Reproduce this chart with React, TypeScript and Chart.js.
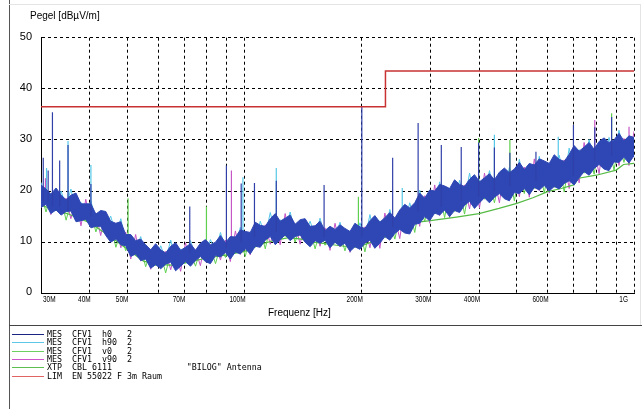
import React, { useEffect, useRef } from "react";
import { Chart, registerables } from "chart.js";

Chart.register(...registerables);

// Sweep frequencies (MHz)
const FREQ = [
  30, 30.9, 31.8, 32.8, 33.8, 34.8, 35.8, 36.9, 38.0, 39.1,
  40.3, 41.5, 42.7, 44.0, 45.3, 46.7, 48.1, 49.5, 51.0, 52.5,
  54.1, 55.7, 57.4, 59.1, 60.9, 62.7, 64.6, 66.5, 68.5, 70.5,
  72.6, 74.8, 77.0, 79.3, 81.7, 84.2, 86.7, 89.3, 91.9, 94.7,
  97.5, 100.4, 103.4, 106.5, 109.7, 113.0, 116.4, 119.9, 123.4, 127.1,
  130.9, 134.8, 138.9, 143.0, 147.3, 151.7, 156.2, 160.9, 165.7, 170.7,
  175.8, 181.0, 186.5, 192.0, 197.8, 203.7, 209.8, 216.0, 222.5, 229.2,
  236.0, 243.1, 250.3, 257.8, 265.5, 273.5, 281.6, 290.1, 298.7, 307.7,
  316.9, 326.3, 336.1, 346.1, 356.5, 367.1, 378.1, 389.4, 401.1, 413.1,
  425.4, 438.1, 451.2, 464.7, 478.6, 492.9, 507.7, 522.8, 538.5, 554.6,
  571.2, 588.2, 605.8, 623.9, 642.6, 661.8, 681.6, 702.0, 722.9, 744.6,
  766.8, 789.8, 813.4, 837.7, 862.7, 888.5, 915.1, 942.4, 970.6, 1000,
];

// MES CFV1 h0 2 : upper / lower envelope of the trace (dBµV/m)
const H0_MAX = [
  21.2, 20.4, 19.4, 20.6, 19.2, 18.3, 19.2, 19.6, 17.5, 17.5,
  17.5, 15.5, 16.2, 16.0, 14.1, 13.7, 14.0, 11.5, 11.5, 10.3,
  10.6, 9.5, 8.5, 9.7, 8.5, 7.9, 9.2, 9.9, 8.4, 9.0,
  9.7, 8.4, 9.8, 10.5, 9.5, 10.0, 11.3, 9.9, 11.1, 11.0,
  12.4, 12.1, 11.9, 13.9, 13.3, 13.1, 14.6, 15.6, 14.1, 14.7,
  15.3, 13.5, 14.4, 14.6, 13.1, 13.2, 14.1, 12.3, 13.1, 12.5,
  13.4, 12.7, 12.1, 13.7, 13.0, 12.7, 14.2, 15.2, 13.9, 14.8,
  15.8, 14.7, 16.3, 17.4, 16.7, 17.7, 19.6, 18.6, 20.2, 20.0,
  21.3, 21.0, 20.5, 22.2, 21.3, 20.9, 22.3, 23.2, 21.8, 22.6,
  23.4, 22.2, 23.7, 24.5, 23.6, 24.3, 25.6, 24.2, 25.4, 25.1,
  26.3, 25.9, 25.4, 27.1, 26.2, 25.8, 27.2, 28.9, 27.8, 28.6,
  29.5, 28.2, 29.7, 30.4, 29.5, 30.0, 31.3, 29.8, 30.8, 30.5,
];
const H0_MIN = [
  16.8, 17.4, 15.6, 16.3, 15.3, 16.0, 16.1, 14.0, 14.2, 14.5,
  12.8, 13.1, 13.1, 11.3, 10.0, 10.6, 9.5, 9.3, 7.2, 7.7,
  6.4, 6.7, 4.9, 5.6, 4.8, 5.7, 6.1, 4.4, 5.3, 6.2,
  5.3, 6.4, 7.2, 6.2, 5.8, 7.4, 7.1, 8.0, 6.7, 8.1,
  7.7, 8.7, 7.7, 9.2, 9.0, 10.4, 11.1, 9.5, 10.5, 11.4,
  10.3, 11.1, 11.4, 10.0, 9.1, 10.3, 9.8, 10.4, 8.9, 10.0,
  9.2, 9.8, 8.2, 9.1, 8.6, 9.8, 10.4, 8.8, 9.8, 11.1,
  10.4, 11.7, 12.5, 11.8, 11.6, 13.5, 13.7, 15.0, 14.2, 15.7,
  15.3, 16.3, 15.0, 16.2, 15.8, 17.2, 18.0, 16.6, 17.7, 18.7,
  17.7, 18.8, 19.5, 18.5, 18.1, 19.7, 19.5, 20.5, 19.3, 20.7,
  20.2, 21.1, 20.0, 20.9, 20.4, 21.5, 22.0, 21.2, 22.6, 23.8,
  23.1, 24.4, 25.2, 24.3, 24.0, 25.7, 25.6, 26.6, 25.5, 26.9,
];
// MES CFV1 h90 2
const H90 = [
  21.7, 18.0, 19.5, 17.4, 20.0, 16.8, 20.4, 16.2, 17.8, 15.2,
  18.1, 14.1, 15.4, 13.0, 15.1, 11.5, 14.6, 9.9, 11.1, 8.5,
  11.1, 7.3, 8.6, 6.7, 9.3, 6.5, 10.4, 6.6, 8.7, 6.9,
  10.3, 7.4, 9.0, 7.9, 10.5, 8.3, 11.9, 8.6, 10.7, 8.9,
  12.9, 9.3, 12.0, 10.3, 14.1, 11.2, 15.8, 11.7, 14.4, 12.1,
  15.9, 12.1, 13.6, 11.7, 14.1, 11.2, 14.7, 11.0, 12.7, 10.8,
  13.9, 10.4, 12.2, 10.2, 13.8, 10.6, 15.4, 11.0, 14.2, 11.8,
  16.4, 12.7, 15.5, 13.5, 17.7, 14.4, 20.2, 15.6, 19.8, 16.5,
  21.8, 16.9, 20.6, 17.3, 22.1, 18.0, 23.5, 18.8, 22.1, 19.4,
  24.0, 19.8, 22.9, 20.2, 24.6, 20.6, 26.2, 21.1, 25.0, 21.5,
  26.8, 21.7, 25.5, 22.0, 27.0, 22.3, 28.4, 23.4, 28.1, 24.5,
  30.1, 25.4, 28.9, 26.0, 30.5, 26.6, 31.9, 27.2, 30.4, 27.7,
];
// MES CFV1 v0 2
const V0 = [
  19.5, 15.9, 19.0, 16.1, 18.4, 14.3, 17.8, 14.6, 17.0, 14.2,
  15.9, 12.0, 14.9, 11.7, 13.5, 9.0, 12.0, 8.3, 10.3, 7.5,
  8.9, 5.2, 8.1, 5.4, 7.7, 4.0, 7.8, 5.0, 7.9, 5.9,
  8.1, 5.3, 8.5, 6.6, 8.9, 5.8, 9.3, 7.0, 9.9, 7.9,
  10.7, 7.2, 11.5, 9.0, 12.5, 8.7, 13.2, 10.1, 13.6, 11.1,
  13.7, 10.0, 13.1, 10.4, 12.5, 8.7, 12.1, 9.4, 11.9, 9.8,
  11.7, 8.3, 11.7, 8.9, 12.2, 8.1, 12.8, 9.4, 13.4, 10.8,
  14.2, 10.6, 15.0, 12.2, 16.1, 11.9, 17.6, 14.0, 19.0, 15.5,
  19.6, 14.8, 20.1, 16.0, 20.5, 15.5, 20.9, 17.2, 21.3, 18.4,
  21.8, 17.7, 22.4, 18.9, 23.0, 18.1, 23.6, 19.5, 24.2, 20.5,
  24.6, 19.6, 25.0, 20.7, 25.4, 19.8, 25.8, 21.8, 27.3, 23.5,
  27.9, 23.3, 28.4, 24.7, 28.9, 24.1, 29.3, 25.6, 29.6, 26.7,
];
// MES CFV1 v90 2
const V90 = [
  16.7, 19.5, 15.4, 20.3, 16.2, 18.6, 14.6, 18.3, 13.2, 18.4,
  13.2, 15.6, 11.3, 15.8, 11.4, 13.3, 8.9, 12.0, 6.7, 11.5,
  6.3, 8.6, 4.7, 9.4, 5.7, 8.2, 4.6, 8.6, 4.3, 9.9,
  5.7, 8.5, 5.4, 10.3, 7.2, 9.6, 6.5, 10.4, 6.2, 12.2,
  7.6, 11.2, 7.5, 13.6, 9.9, 13.4, 9.6, 14.3, 9.5, 15.6,
  10.7, 13.6, 9.6, 14.4, 10.5, 12.8, 9.2, 12.8, 8.4, 13.7,
  9.1, 11.8, 8.0, 13.4, 9.5, 13.0, 8.9, 13.9, 8.8, 15.7,
  10.8, 14.8, 10.7, 17.2, 13.0, 17.3, 13.1, 19.1, 13.7, 21.2,
  15.2, 20.1, 14.8, 21.9, 16.7, 21.2, 16.5, 21.9, 16.7, 23.5,
  18.1, 22.3, 17.7, 24.3, 19.5, 23.9, 18.9, 24.7, 18.8, 26.3,
  20.1, 25.0, 19.6, 26.8, 21.3, 26.1, 20.5, 27.6, 21.6, 29.5,
  23.5, 28.3, 23.4, 30.2, 25.4, 29.6, 25.0, 30.3, 25.0, 31.7,
];

// Narrow-band spikes (frequency MHz, foot level, peak level)
const SPK_BLUE_F = [30.4, 31.3, 32.1, 33.5, 35.2, 40.3, 72.3, 89.8, 98.0, 106, 120.6, 160, 200, 240, 279, 320, 360, 399, 438, 480, 560, 699, 793, 876];
const SPK_BLUE_LO = [18, 18, 17, 17, 16, 15, 8, 9, 10, 11, 12, 11, 11, 13, 16, 17, 18, 19, 20, 21, 22, 23, 26, 27];
const SPK_BLUE_HI = [26.5, 24.0, 35.4, 26.0, 29.0, 21.4, 17.0, 25.0, 21.5, 21.6, 22.0, 21.2, 36.5, 26.5, 33.3, 29.0, 28.6, 29.5, 28.5, 27.5, 27.7, 32.9, 32.5, 34.5];
const SPK_CYAN_F = [31.0, 35.2, 40.3, 99.0, 120.6, 254, 438, 639];
const SPK_CYAN_LO = [18, 16, 15, 11, 12, 14, 21, 24];
const SPK_CYAN_HI = [24.5, 29.8, 25.1, 22.7, 24.5, 20.6, 31.0, 30.6];
const SPK_GREEN_F = [50.2, 79.8, 196, 399, 480, 876];
const SPK_GREEN_LO = [10, 8, 11, 20, 21, 27];
const SPK_GREEN_HI = [18.6, 17.0, 18.9, 30.4, 30.0, 35.2];
const SPK_MAG_F = [30.8, 92.5, 793, 971];
const SPK_MAG_LO = [18, 9, 26, 28];
const SPK_MAG_HI = [22.5, 24.0, 33.9, 32.6];

// XTP CBL 6111 "BILOG" Antenna
const XTP_F = [30, 35, 40, 45, 50, 55, 60, 65, 70, 80, 90, 100, 110, 120, 130, 140, 150, 165, 180, 200, 215, 230, 250, 300, 350, 400, 450, 500, 550, 600, 650, 700, 720, 800, 900, 940, 1000];
const XTP_V = [17.2, 15.6, 13.8, 11.2, 8.6, 6.3, 5.6, 5.5, 5.9, 6.9, 7.5, 8.2, 9.6, 10.4, 10.9, 10.6, 10.0, 9.6, 9.2, 9.3, 10.2, 12.0, 13.5, 14.2, 14.9, 15.6, 16.6, 17.6, 18.7, 19.9, 20.5, 21.2, 22.5, 23.1, 24.1, 25.2, 25.4];

// LIM EN 55022 F 3m Raum
const LIM_F = [30, 230, 230, 1000];
const LIM_V = [36.5, 36.5, 43.5, 43.5];

// Axes
const X_GRID = [30, 40, 50, 60, 70, 80, 90, 100, 200, 300, 400, 500, 600, 700, 800, 900, 1000];
const X_LABEL_VALUES = [30, 40, 50, 70, 100, 200, 300, 400, 600, 1000];
const X_LABELS = ["30M", "40M", "50M", "70M", "100M", "200M", "300M", "400M", "600M", "1G"];
const Y_MIN = 0;
const Y_MAX = 50;
const Y_STEP = 10;

const LEGEND_ROWS = [
  { color: "#1c2580", text: "MES  CFV1  h0   2" },
  { color: "#5ec6e6", text: "MES  CFV1  h90  2" },
  { color: "#6bd060", text: "MES  CFV1  v0   2" },
  { color: "#cc55cc", text: "MES  CFV1  v90  2" },
  { color: "#5cbf4f", text: "XTP  CBL 6111               \"BILOG\" Antenna" },
  { color: "#e06464", text: "LIM  EN 55022 F 3m Raum" },
];

const BAND_BLUE = "#2e47b4";

const pts = (xs: number[], ys: number[]) => xs.map((x, i) => ({ x, y: ys[i] }));
const spikes = (xs: number[], lo: number[], hi: number[]) =>
  xs.flatMap((x, i) => [
    { x, y: lo[i] },
    { x, y: hi[i] },
    { x, y: null as any },
  ]);

const xLabelPlugin = {
  id: "xLabels",
  afterDraw(chart: any) {
    const ctx = chart.ctx as CanvasRenderingContext2D;
    const sx = chart.scales.x;
    const SCALE = 0.72;
    ctx.save();
    ctx.fillStyle = "#000";
    ctx.font = '9px "Liberation Sans", Arial, sans-serif';
    ctx.textBaseline = "middle";
    ctx.textAlign = "left";
    const last = X_LABEL_VALUES.length - 1;
    X_LABEL_VALUES.forEach((v, i) => {
      const px = sx.getPixelForValue(v);
      const text = X_LABELS[i];
      const w = ctx.measureText(text).width * SCALE;
      let left: number;
      if (i === 0) left = px + 2;
      else if (i === last) left = px - 6 - w;
      else left = px + 1 - w;
      ctx.save();
      ctx.translate(left, 300);
      ctx.scale(SCALE, 1);
      ctx.fillText(text, 0, 0);
      ctx.restore();
    });
    ctx.restore();
  },
};

export default function App() {
  const ref = useRef<HTMLCanvasElement>(null);

  useEffect(() => {
    if (!ref.current) return;
    const line = (label: string, data: any[], color: string, width: number, order: number, extra: any = {}) => ({
      label,
      data,
      borderColor: color,
      backgroundColor: color,
      borderWidth: width,
      pointRadius: 0,
      tension: 0,
      fill: false,
      order,
      ...extra,
    });
    const chart = new Chart(ref.current, {
      type: "line",
      data: {
        datasets: [
          line("MES CFV1 h90 2", pts(FREQ, H90), "#55c8e8", 1, 20),
          line("MES CFV1 v0 2", pts(FREQ, V0), "#5fcf4f", 1, 19),
          line("MES CFV1 v90 2", pts(FREQ, V90), "#c655c6", 1, 18),
          line("h90 spikes", spikes(SPK_CYAN_F, SPK_CYAN_LO, SPK_CYAN_HI), "#55c8e8", 1.2, 17),
          line("v0 spikes", spikes(SPK_GREEN_F, SPK_GREEN_LO, SPK_GREEN_HI), "#5fcf4f", 1.2, 16),
          line("v90 spikes", spikes(SPK_MAG_F, SPK_MAG_LO, SPK_MAG_HI), "#c655c6", 1.2, 15),
          line("XTP CBL 6111", pts(XTP_F, XTP_V), "#55bb44", 1.2, 14),
          line("MES CFV1 h0 2 max", pts(FREQ, H0_MAX), BAND_BLUE, 1, 13, { fill: "+1", backgroundColor: BAND_BLUE }),
          line("MES CFV1 h0 2 min", pts(FREQ, H0_MIN), BAND_BLUE, 1, 12),
          line("h0 spikes", spikes(SPK_BLUE_F, SPK_BLUE_LO, SPK_BLUE_HI), "#3040a8", 1.2, 11),
          line("LIM EN 55022 F 3m Raum", pts(LIM_F, LIM_V), "#c83232", 1.5, 1),
        ],
      },
      options: {
        responsive: false,
        animation: false,
        events: [],
        layout: { padding: { left: 0, right: 8, top: 37.7, bottom: 105.7 } },
        plugins: {
          legend: { display: false },
          tooltip: { enabled: false },
          title: { display: false },
        },
        scales: {
          x: {
            type: "logarithmic",
            min: 30,
            max: 1000,
            position: "bottom",
            afterBuildTicks: (s: any) => {
              s.ticks = X_GRID.map((v) => ({ value: v }));
            },
            afterFit: (s: any) => {
              s.height = 10;
            },
            ticks: { display: false },
            grid: { color: "#000", lineWidth: 1, drawTicks: false },
            border: { display: true, color: "#000", width: 1, dash: [3, 3] },
          },
          y: {
            type: "linear",
            min: Y_MIN,
            max: Y_MAX,
            afterFit: (s: any) => {
              s.width = 41;
            },
            ticks: {
              stepSize: Y_STEP,
              color: "#000",
              font: { family: '"Liberation Sans", Arial, sans-serif', size: 11 },
              padding: 9,
              labelOffset: -1,
            },
            grid: { color: "#000", lineWidth: 1, drawTicks: false },
            border: { display: true, color: "#000", width: 1, dash: [3, 3] },
          },
        },
      } as any,
      plugins: [xLabelPlugin],
    });
    return () => chart.destroy();
  }, []);

  const sans = '"Liberation Sans", Arial, sans-serif';
  const mono = '"DejaVu Sans Mono", monospace';

  return (
    <div
      style={{
        position: "fixed",
        left: 0,
        top: 0,
        width: 642,
        height: 409,
        background: "#fff",
        overflow: "hidden",
      }}
    >
      <canvas
        ref={ref}
        width={642}
        height={409}
        style={{ position: "absolute", left: 0, top: 0, width: 642, height: 409, display: "block" }}
      />
      {/* frame */}
      <div style={{ position: "absolute", left: 9, top: 0, width: 1, height: 409, background: "#555" }} />
      <div style={{ position: "absolute", left: 9, top: 4, width: 631, height: 1, background: "#e4e4e4" }} />
      <div style={{ position: "absolute", left: 640, top: 4, width: 1, height: 321, background: "#e4e4e4" }} />
      <div style={{ position: "absolute", left: 9, top: 325, width: 633, height: 1, background: "#444" }} />
      {/* titles */}
      <div
        style={{
          position: "absolute",
          left: 30,
          top: 10,
          font: `10px ${sans}`,
          lineHeight: "12px",
          color: "#000",
          whiteSpace: "pre",
        }}
      >
        Pegel [dBµV/m]
      </div>
      <div
        style={{
          position: "absolute",
          left: 268,
          top: 307,
          font: `10px ${sans}`,
          lineHeight: "12px",
          color: "#000",
          whiteSpace: "pre",
        }}
      >
        Frequenz [Hz]
      </div>
      {/* legend */}
      {LEGEND_ROWS.map((r, i) => {
        const cy = 334 + i * 8.3;
        return (
          <React.Fragment key={i}>
            <div style={{ position: "absolute", left: 12, top: Math.round(cy), width: 32, height: 1, background: r.color }} />
            <div
              style={{
                position: "absolute",
                left: 47,
                top: cy - 5,
                font: `8.3px ${mono}`,
                lineHeight: "10px",
                color: "#000",
                whiteSpace: "pre",
              }}
            >
              {r.text}
            </div>
          </React.Fragment>
        );
      })}
    </div>
  );
}
